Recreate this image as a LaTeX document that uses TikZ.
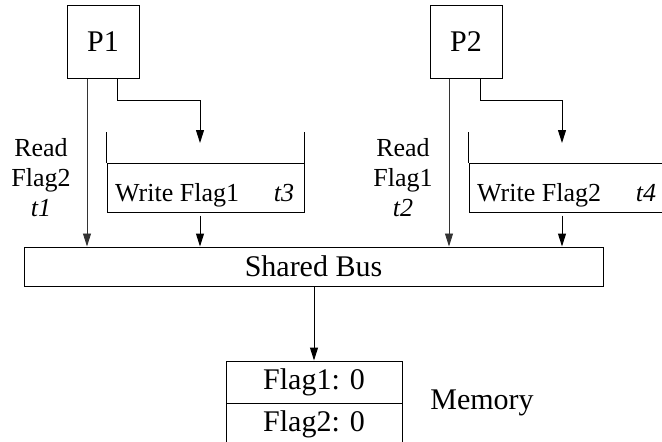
\documentclass[tikz,border=0pt]{standalone}
\usepackage{fontspec}
\setmainfont{Liberation Serif}
\usetikzlibrary{arrows.meta}
\begin{document}
\begin{tikzpicture}[x=1pt,y=-1pt,
  box/.style={draw, line width=1pt, inner sep=0pt, font=\fontsize{30}{30}\selectfont},
  arr/.style={line width=1pt, -{Triangle[length=13pt,width=8pt]}},
  rarr/.style={line width=0.8pt, draw=black!80, -{Triangle[length=13pt,width=8pt]}},
  lbl/.style={font=\fontsize{26}{30}\selectfont, align=center, inner sep=0pt},
  big/.style={font=\fontsize{30}{30}\selectfont, inner sep=0pt}
]
\useasboundingbox (0,0) rectangle (662,442);
\clip (0,0) rectangle (662,442);
% processors
\node[box, minimum width=72pt, minimum height=73pt] (p1) at (103,41.5) {P1};
\node[box, minimum width=72pt, minimum height=73pt] (p2) at (466,41.5) {P2};
% bus
\node[box, minimum width=579pt, minimum height=39pt] (bus) at (313.5,266.5) {Shared Bus};
% write buffers
\node[draw, line width=1pt, minimum width=197pt, minimum height=49pt, inner sep=0pt] (w1) at (205.5,187.5) {};
\node[draw, line width=1pt, minimum width=197pt, minimum height=49pt, inner sep=0pt] (w2) at (567.5,187.5) {};
\draw[line width=1pt] (w1.north west) -- ++(0,-31);
\draw[line width=1pt] (w1.north east) -- ++(0,-31);
\draw[line width=1pt] (w2.north west) -- ++(0,-31);
\node[lbl, anchor=base west] (w1t) at (115,201) {Write Flag1};
\node[lbl, anchor=base] (t3) at (284,201) {\itshape t3};
\node[lbl, anchor=base west] (w2t) at (477,201) {Write Flag2};
\node[lbl, anchor=base] (t4) at (646,201) {\itshape t4};
% read labels
\node[lbl] (r1) at (41,178) {Read\\Flag2\\\itshape t1};
\node[lbl] (r2) at (403,178) {Read\\Flag1\\\itshape t2};
% memory
\node[box, minimum width=176pt, minimum height=42pt] (m1) at (314,382) {Flag1: 0};
\node[box, minimum width=176pt, minimum height=42pt] (m2) at (314,424) {Flag2: 0};
\node[big] (mem) at (482,403) {Memory};
% columns
\coordinate (c1) at (87,0);
\coordinate (e1) at (117,0);
\coordinate (w1in) at (200,143);
\coordinate (c2) at (449,0);
\coordinate (e2) at (480,0);
\coordinate (w2in) at (562,143);
% arrows
\draw[rarr] (p1.south -| c1) -- (bus.north -| c1);
\draw[arr] (p1.south -| e1) -- ++(0,22) -| (w1in);
\draw[arr] ([yshift=-3pt]w1.south -| w1in) -- (bus.north -| w1in);
\draw[rarr] (p2.south -| c2) -- (bus.north -| c2);
\draw[arr] (p2.south -| e2) -- ++(0,22) -| (w2in);
\draw[arr] ([yshift=-3pt]w2.south -| w2in) -- (bus.north -| w2in);
\draw[arr] (bus.south -| m1.north) -- (m1.north);
\end{tikzpicture}
\end{document}
